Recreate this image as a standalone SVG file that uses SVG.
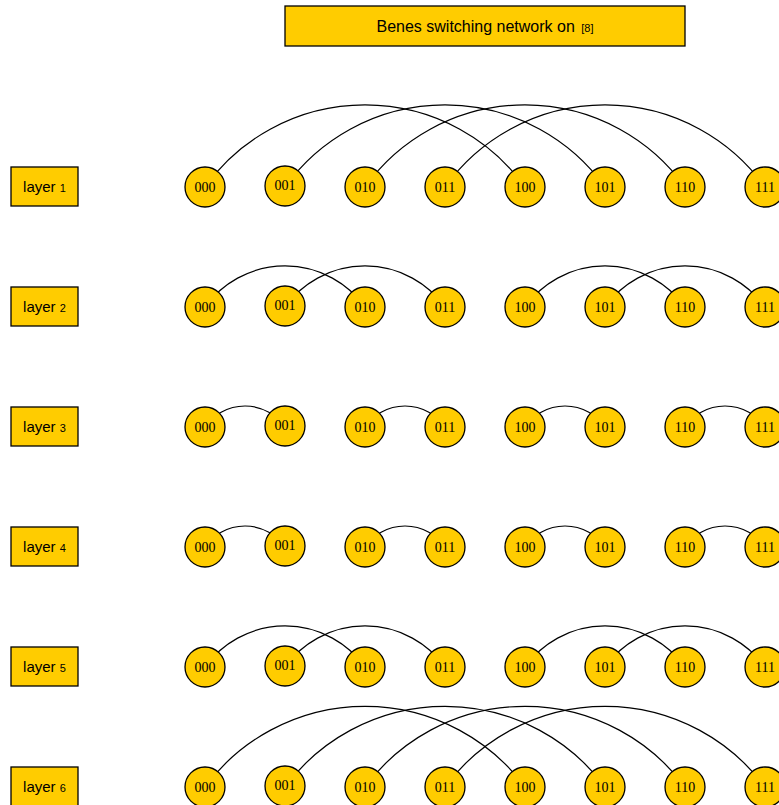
<svg xmlns="http://www.w3.org/2000/svg" width="779" height="805" viewBox="0 0 779 805">
<style>
.box{fill:#FFCC00;stroke:#000;stroke-width:1.3}
.nd{fill:#FFCC00;stroke:#000;stroke-width:1.3}
.nt{font-family:"Liberation Serif",serif;font-size:14px;text-anchor:middle;fill:#000}
.lt{font-family:"Liberation Sans",sans-serif;font-size:15px;text-anchor:middle;fill:#000}
.tt{font-family:"Liberation Sans",sans-serif;font-size:16px;text-anchor:middle;fill:#000}
.sm{font-size:11px}
#edges path{fill:none;stroke:#000;stroke-width:1.2}
</style>
<rect width="779" height="805" fill="#fff"/>
<g id="title"><rect class="box" x="285" y="6" width="400" height="40"/><text class="tt" x="485" y="32">Benes switching network on <tspan class="sm" dx="2">[8]</tspan></text></g>
<g id="labels">
<g id="lbl1"><rect class="box" x="11" y="167" width="67" height="39"/><text class="lt" x="44.5" y="192">layer <tspan class="sm">1</tspan></text></g>
<g id="lbl2"><rect class="box" x="11" y="287" width="67" height="39"/><text class="lt" x="44.5" y="312">layer <tspan class="sm">2</tspan></text></g>
<g id="lbl3"><rect class="box" x="11" y="407" width="67" height="39"/><text class="lt" x="44.5" y="432">layer <tspan class="sm">3</tspan></text></g>
<g id="lbl4"><rect class="box" x="11" y="527" width="67" height="39"/><text class="lt" x="44.5" y="552">layer <tspan class="sm">4</tspan></text></g>
<g id="lbl5"><rect class="box" x="11" y="647" width="67" height="39"/><text class="lt" x="44.5" y="672">layer <tspan class="sm">5</tspan></text></g>
<g id="lbl6"><rect class="box" x="11" y="767" width="67" height="39"/><text class="lt" x="44.5" y="792">layer <tspan class="sm">6</tspan></text></g>
</g>
<g id="edges">
<path d="M205 187A197 197 0 0 1 525 187"/><path d="M285 187A197 197 0 0 1 605 187"/><path d="M365 187A197 197 0 0 1 685 187"/><path d="M445 187A197 197 0 0 1 765 187"/>
<path d="M205 307A98.5 98.5 0 0 1 365 307"/><path d="M285 307A98.5 98.5 0 0 1 445 307"/><path d="M525 307A98.5 98.5 0 0 1 685 307"/><path d="M605 307A98.5 98.5 0 0 1 765 307"/>
<path d="M205 427A48.6 48.6 0 0 1 285 427"/><path d="M365 427A48.6 48.6 0 0 1 445 427"/><path d="M525 427A48.6 48.6 0 0 1 605 427"/><path d="M685 427A48.6 48.6 0 0 1 765 427"/>
<path d="M205 547A48.6 48.6 0 0 1 285 547"/><path d="M365 547A48.6 48.6 0 0 1 445 547"/><path d="M525 547A48.6 48.6 0 0 1 605 547"/><path d="M685 547A48.6 48.6 0 0 1 765 547"/>
<path d="M205 667A98.5 98.5 0 0 1 365 667"/><path d="M285 667A98.5 98.5 0 0 1 445 667"/><path d="M525 667A98.5 98.5 0 0 1 685 667"/><path d="M605 667A98.5 98.5 0 0 1 765 667"/>
<path d="M205 787A199 199 0 0 1 525 787"/><path d="M285 787A199 199 0 0 1 605 787"/><path d="M365 787A199 199 0 0 1 685 787"/><path d="M445 787A199 199 0 0 1 765 787"/>
</g>
<g id="nodes">
<g id="r1">
<g id="n1_000"><circle class="nd" cx="205" cy="187" r="20"/><text class="nt" x="205" y="192">000</text></g>
<g id="n1_001"><circle class="nd" cx="285" cy="186" r="20"/><text class="nt" x="285" y="190">001</text></g>
<g id="n1_010"><circle class="nd" cx="365" cy="187" r="20"/><text class="nt" x="365" y="192">010</text></g>
<g id="n1_011"><circle class="nd" cx="445" cy="187" r="20"/><text class="nt" x="445" y="192">011</text></g>
<g id="n1_100"><circle class="nd" cx="525" cy="187" r="20"/><text class="nt" x="525" y="192">100</text></g>
<g id="n1_101"><circle class="nd" cx="605" cy="187" r="20"/><text class="nt" x="605" y="192">101</text></g>
<g id="n1_110"><circle class="nd" cx="685" cy="187" r="20"/><text class="nt" x="685" y="192">110</text></g>
<g id="n1_111"><circle class="nd" cx="765" cy="187" r="20"/><text class="nt" x="765" y="192">111</text></g>
</g>
<g id="r2">
<g id="n2_000"><circle class="nd" cx="205" cy="307" r="20"/><text class="nt" x="205" y="312">000</text></g>
<g id="n2_001"><circle class="nd" cx="285" cy="306" r="20"/><text class="nt" x="285" y="310">001</text></g>
<g id="n2_010"><circle class="nd" cx="365" cy="307" r="20"/><text class="nt" x="365" y="312">010</text></g>
<g id="n2_011"><circle class="nd" cx="445" cy="307" r="20"/><text class="nt" x="445" y="312">011</text></g>
<g id="n2_100"><circle class="nd" cx="525" cy="307" r="20"/><text class="nt" x="525" y="312">100</text></g>
<g id="n2_101"><circle class="nd" cx="605" cy="307" r="20"/><text class="nt" x="605" y="312">101</text></g>
<g id="n2_110"><circle class="nd" cx="685" cy="307" r="20"/><text class="nt" x="685" y="312">110</text></g>
<g id="n2_111"><circle class="nd" cx="765" cy="307" r="20"/><text class="nt" x="765" y="312">111</text></g>
</g>
<g id="r3">
<g id="n3_000"><circle class="nd" cx="205" cy="427" r="20"/><text class="nt" x="205" y="432">000</text></g>
<g id="n3_001"><circle class="nd" cx="285" cy="426" r="20"/><text class="nt" x="285" y="430">001</text></g>
<g id="n3_010"><circle class="nd" cx="365" cy="427" r="20"/><text class="nt" x="365" y="432">010</text></g>
<g id="n3_011"><circle class="nd" cx="445" cy="427" r="20"/><text class="nt" x="445" y="432">011</text></g>
<g id="n3_100"><circle class="nd" cx="525" cy="427" r="20"/><text class="nt" x="525" y="432">100</text></g>
<g id="n3_101"><circle class="nd" cx="605" cy="427" r="20"/><text class="nt" x="605" y="432">101</text></g>
<g id="n3_110"><circle class="nd" cx="685" cy="427" r="20"/><text class="nt" x="685" y="432">110</text></g>
<g id="n3_111"><circle class="nd" cx="765" cy="427" r="20"/><text class="nt" x="765" y="432">111</text></g>
</g>
<g id="r4">
<g id="n4_000"><circle class="nd" cx="205" cy="547" r="20"/><text class="nt" x="205" y="552">000</text></g>
<g id="n4_001"><circle class="nd" cx="285" cy="546" r="20"/><text class="nt" x="285" y="550">001</text></g>
<g id="n4_010"><circle class="nd" cx="365" cy="547" r="20"/><text class="nt" x="365" y="552">010</text></g>
<g id="n4_011"><circle class="nd" cx="445" cy="547" r="20"/><text class="nt" x="445" y="552">011</text></g>
<g id="n4_100"><circle class="nd" cx="525" cy="547" r="20"/><text class="nt" x="525" y="552">100</text></g>
<g id="n4_101"><circle class="nd" cx="605" cy="547" r="20"/><text class="nt" x="605" y="552">101</text></g>
<g id="n4_110"><circle class="nd" cx="685" cy="547" r="20"/><text class="nt" x="685" y="552">110</text></g>
<g id="n4_111"><circle class="nd" cx="765" cy="547" r="20"/><text class="nt" x="765" y="552">111</text></g>
</g>
<g id="r5">
<g id="n5_000"><circle class="nd" cx="205" cy="667" r="20"/><text class="nt" x="205" y="672">000</text></g>
<g id="n5_001"><circle class="nd" cx="285" cy="666" r="20"/><text class="nt" x="285" y="670">001</text></g>
<g id="n5_010"><circle class="nd" cx="365" cy="667" r="20"/><text class="nt" x="365" y="672">010</text></g>
<g id="n5_011"><circle class="nd" cx="445" cy="667" r="20"/><text class="nt" x="445" y="672">011</text></g>
<g id="n5_100"><circle class="nd" cx="525" cy="667" r="20"/><text class="nt" x="525" y="672">100</text></g>
<g id="n5_101"><circle class="nd" cx="605" cy="667" r="20"/><text class="nt" x="605" y="672">101</text></g>
<g id="n5_110"><circle class="nd" cx="685" cy="667" r="20"/><text class="nt" x="685" y="672">110</text></g>
<g id="n5_111"><circle class="nd" cx="765" cy="667" r="20"/><text class="nt" x="765" y="672">111</text></g>
</g>
<g id="r6">
<g id="n6_000"><circle class="nd" cx="205" cy="787" r="20"/><text class="nt" x="205" y="792">000</text></g>
<g id="n6_001"><circle class="nd" cx="285" cy="786" r="20"/><text class="nt" x="285" y="790">001</text></g>
<g id="n6_010"><circle class="nd" cx="365" cy="787" r="20"/><text class="nt" x="365" y="792">010</text></g>
<g id="n6_011"><circle class="nd" cx="445" cy="787" r="20"/><text class="nt" x="445" y="792">011</text></g>
<g id="n6_100"><circle class="nd" cx="525" cy="787" r="20"/><text class="nt" x="525" y="792">100</text></g>
<g id="n6_101"><circle class="nd" cx="605" cy="787" r="20"/><text class="nt" x="605" y="792">101</text></g>
<g id="n6_110"><circle class="nd" cx="685" cy="787" r="20"/><text class="nt" x="685" y="792">110</text></g>
<g id="n6_111"><circle class="nd" cx="765" cy="787" r="20"/><text class="nt" x="765" y="792">111</text></g>
</g>
</g>
</svg>
